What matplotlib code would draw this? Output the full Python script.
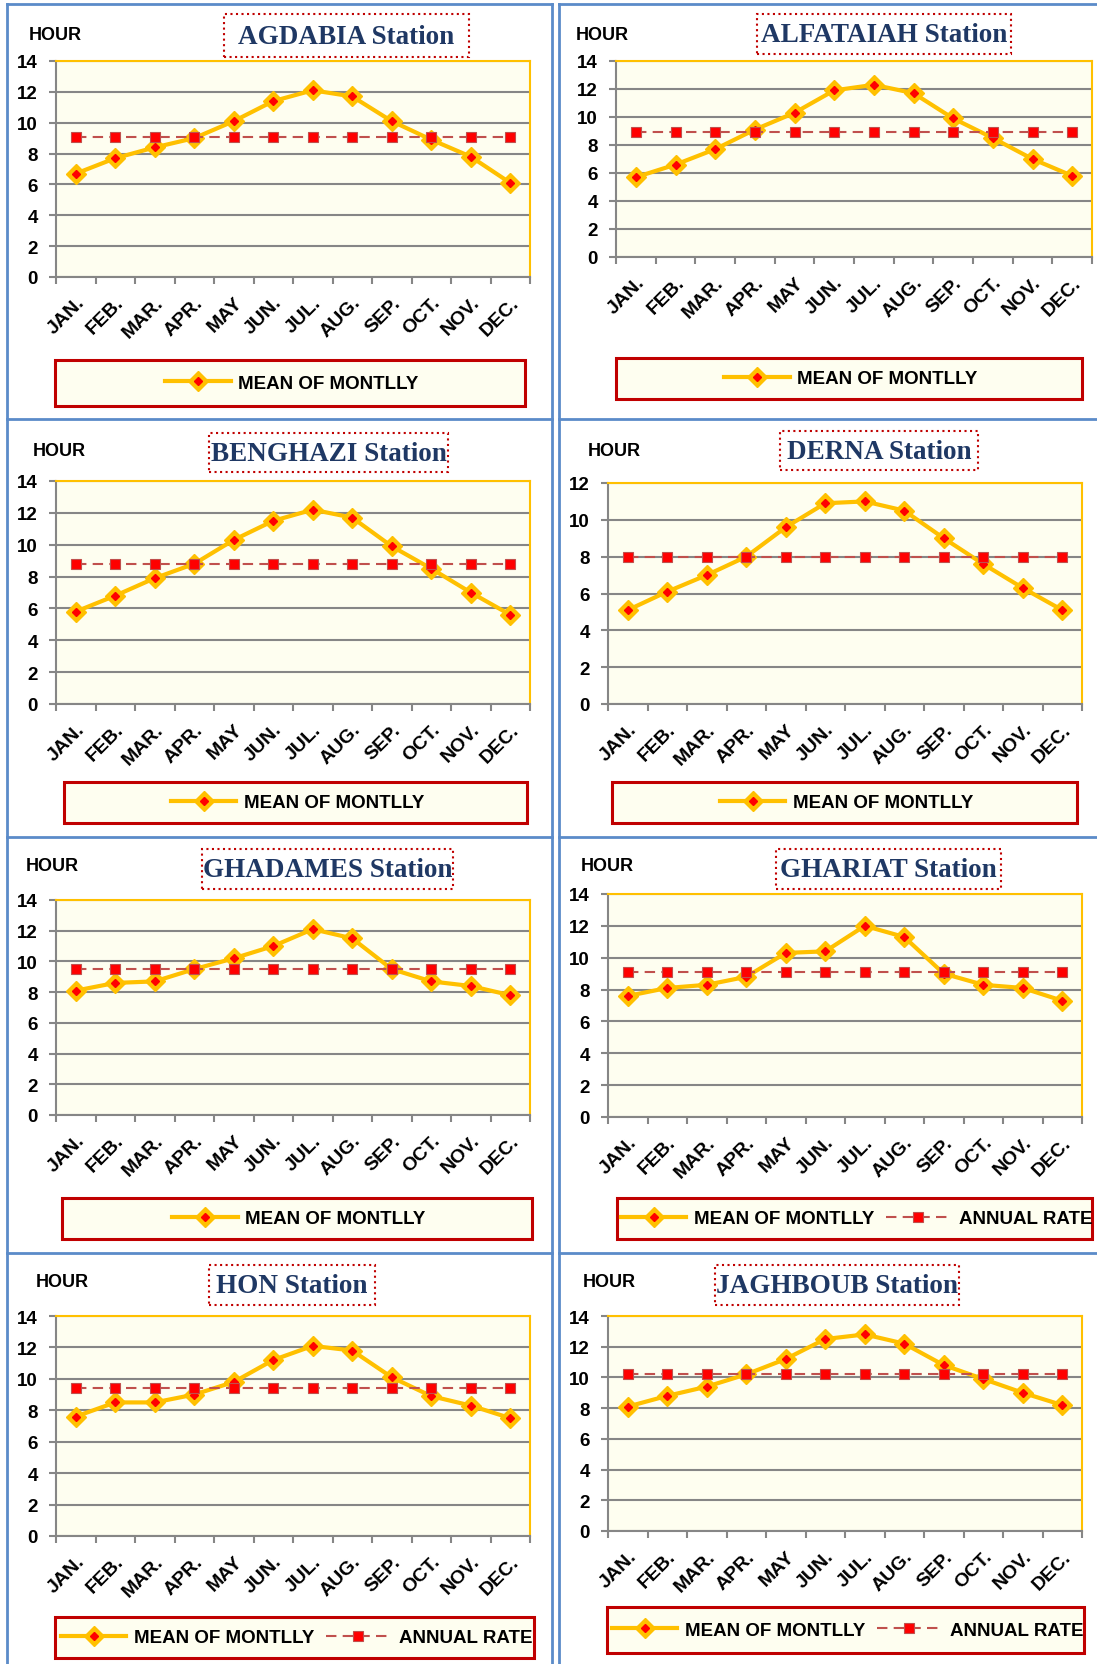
import numpy as np
import matplotlib
matplotlib.use("Agg")
import matplotlib.pyplot as plt
from matplotlib.patches import Rectangle
from matplotlib.lines import Line2D
from matplotlib.legend_handler import HandlerTuple

plt.rcParams['font.family'] = ['Liberation Sans', 'DejaVu Sans']
plt.rcParams['font.weight'] = 'bold'

W, H = 1097, 1665

# ---- data (sunshine hours) ----
months = ["JAN.", "FEB.", "MAR.", "APR.", "MAY", "JUN.",
          "JUL.", "AUG.", "SEP.", "OCT.", "NOV.", "DEC."]
stations = ["AGDABIA", "ALFATAIAH", "BENGHAZI", "DERNA",
            "GHADAMES", "GHARIAT", "HON", "JAGHBOUB"]

agdabia = [6.7, 7.7, 8.4, 9.0, 10.1, 11.4, 12.1, 11.7, 10.1, 8.9, 7.8, 6.1]
alfataiah = [5.7, 6.6, 7.7, 9.1, 10.3, 11.9, 12.3, 11.7, 9.9, 8.5, 7.0, 5.8]
benghazi = [5.8, 6.8, 7.9, 8.8, 10.3, 11.5, 12.2, 11.7, 9.9, 8.5, 7.0, 5.6]
derna = [5.1, 6.1, 7.0, 8.0, 9.6, 10.9, 11.0, 10.5, 9.0, 7.6, 6.3, 5.1]
ghadames = [8.1, 8.6, 8.7, 9.5, 10.2, 11.0, 12.1, 11.5, 9.5, 8.7, 8.4, 7.8]
ghariat = [7.6, 8.1, 8.3, 8.8, 10.3, 10.4, 12.0, 11.3, 9.0, 8.3, 8.1, 7.3]
hon = [7.6, 8.5, 8.5, 9.0, 9.8, 11.2, 12.1, 11.8, 10.1, 8.9, 8.3, 7.5]
jaghboub = [8.1, 8.8, 9.4, 10.2, 11.2, 12.5, 12.8, 12.2, 10.8, 9.9, 9.0, 8.2]

annual_rate = [9.1, 8.9, 8.8, 8.0, 9.5, 9.1, 9.4, 10.2]
y_top = [14, 14, 14, 12, 14, 14, 14, 14]
legend_has_annual = [False, False, False, False, False, True, True, True]

monthly = [agdabia, alfataiah, benghazi, derna, ghadames, ghariat, hon, jaghboub]

# ---- layout in pixels: plot box, title box, legend box, HOUR label ----
plot_px = [(56, 62, 530, 278), (616, 62, 1092, 258),
           (56, 482, 530, 705), (608, 484, 1082, 705),
           (56, 901, 530, 1116), (608, 895, 1082, 1118),
           (56, 1317, 530, 1537), (608, 1317, 1082, 1532)]
title_px = [(224, 15, 469, 58), (757, 15, 1011, 55),
            (209, 434, 448, 473), (780, 432, 978, 471),
            (202, 850, 453, 890), (776, 850, 1001, 890),
            (209, 1266, 375, 1306), (715, 1266, 959, 1306)]
legend_px = [(55, 361, 525, 407), (616, 359, 1082, 400),
             (64, 783, 527, 824), (612, 783, 1077, 824),
             (62, 1199, 532, 1240), (617, 1199, 1092, 1240),
             (55, 1618, 534, 1659), (607, 1608, 1084, 1654)]
hour_px = [(29, 36), (576, 36), (33, 451), (588, 451),
           (26, 867), (581, 867), (36, 1283), (583, 1283)]

GOLD = '#ffc000'
RED = '#ff0000'
ANN = '#c0504d'
GRID = '#868686'
BLUE = '#5b8bc9'
PANEL_BG = '#fefef0'
TITLE_C = '#1f3864'
DASH = (0, (5, 3))


def fx(x):
    return x / W


def fy(y):
    return 1 - y / H


def add_box(fig, box, ec, ls, fc, lw):
    x0, y0, x1, y1 = box
    fig.add_artist(Rectangle((fx(x0), fy(y1)), fx(x1) - fx(x0), fy(y0) - fy(y1),
                             transform=fig.transFigure, ec=ec, fc=fc, lw=lw, ls=ls))


fig = plt.figure(figsize=(W / 100, H / 100), dpi=100)

# blue panel frames
for x in (7, 551.5, 559):
    fig.add_artist(Line2D([fx(x), fx(x)], [fy(5), 0], transform=fig.transFigure,
                          color=BLUE, lw=2))
for y in (5, 420, 838, 1254):
    fig.add_artist(Line2D([fx(7), fx(551.5)], [fy(y), fy(y)], transform=fig.transFigure,
                          color=BLUE, lw=2))
    fig.add_artist(Line2D([fx(559), 1], [fy(y), fy(y)], transform=fig.transFigure,
                          color=BLUE, lw=2))

x = np.arange(len(months))

for i, name in enumerate(stations):
    x0, y0, x1, y1 = plot_px[i]
    ax = fig.add_axes([fx(x0), fy(y1), fx(x1) - fx(x0), fy(y0) - fy(y1)])
    ax.set_facecolor(PANEL_BG)

    ax.plot(x, monthly[i], color=GOLD, lw=3, marker='D', ms=10.5, mfc=GOLD,
            mec=GOLD, zorder=3)
    ax.plot(x, monthly[i], ls='none', marker='D', ms=4.5, mfc=RED, mec=RED, zorder=3.5)
    ax.plot(x, [annual_rate[i]] * len(x), color=ANN, lw=1.5, ls=DASH,
            marker='s', ms=6.5, mfc=RED, mec=ANN, mew=0.8, zorder=4)

    ax.set_xlim(-0.5, len(months) - 0.5)
    ax.set_ylim(0, y_top[i])
    ax.set_yticks(range(0, y_top[i] + 1, 2))
    ax.set_xticks(x)
    ax.set_xticklabels(months, rotation=45, ha='right', rotation_mode='anchor',
                       fontweight='bold', fontsize=14)
    ax.set_xticks(np.arange(-0.5, len(months), 1), minor=True)
    ax.tick_params(axis='x', which='major', length=0, pad=12)
    ax.tick_params(axis='x', which='minor', length=5, width=1.5, color=GRID)
    ax.tick_params(axis='y', length=5, width=1.5, color=GRID, pad=8, labelsize=13.5)
    for lab in ax.get_yticklabels():
        lab.set_fontweight('bold')

    ax.grid(axis='y', color=GRID, lw=1.5)
    ax.set_axisbelow(True)
    for s in ('left', 'bottom'):
        ax.spines[s].set_color(GRID)
        ax.spines[s].set_linewidth(1.5)
    for s in ('top', 'right'):
        ax.spines[s].set_color(GOLD)
        ax.spines[s].set_linewidth(1.5)

    # title box
    add_box(fig, title_px[i], '#c00000', ':', 'white', 1.5)
    tx0, ty0, tx1, ty1 = title_px[i]
    fig.text(fx((tx0 + tx1) / 2), fy((ty0 + ty1) / 2 + 1), name + " Station",
             ha='center', va='center', fontsize=19.5, fontweight='bold',
             color=TITLE_C, family=['Liberation Serif'])

    # HOUR label
    hx, hy = hour_px[i]
    fig.text(fx(hx), fy(hy), "HOUR", ha='left', va='center', fontsize=13,
             fontweight='bold')

    # legend box
    add_box(fig, legend_px[i], '#c00000', '-', PANEL_BG, 2.2)
    lx0, ly0, lx1, ly1 = legend_px[i]
    h_mean = (Line2D([], [], color=GOLD, lw=3, marker='D', ms=10.5, mfc=GOLD, mec=GOLD),
              Line2D([], [], ls='none', marker='D', ms=4.5, mfc=RED, mec=RED))
    handles = [h_mean]
    labels = ["MEAN OF MONTLLY"]
    if legend_has_annual[i]:
        handles.append(Line2D([], [], color=ANN, lw=1.5, ls=DASH, marker='s',
                              ms=6.5, mfc=RED, mec=ANN, mew=0.8))
        labels.append("ANNUAL RATE")
    fig.legend(handles, labels, loc='center',
               bbox_to_anchor=(fx((lx0 + lx1) / 2 + 2), fy((ly0 + ly1) / 2)),
               ncol=len(handles), frameon=False, numpoints=1, handlelength=3.5,
               handletextpad=0.4, columnspacing=0.6, borderpad=0, borderaxespad=0,
               handler_map={tuple: HandlerTuple(ndivide=1, pad=0)},
               prop={'weight': 'bold', 'size': 13.5})

fig.savefig("out.png", dpi=100)
